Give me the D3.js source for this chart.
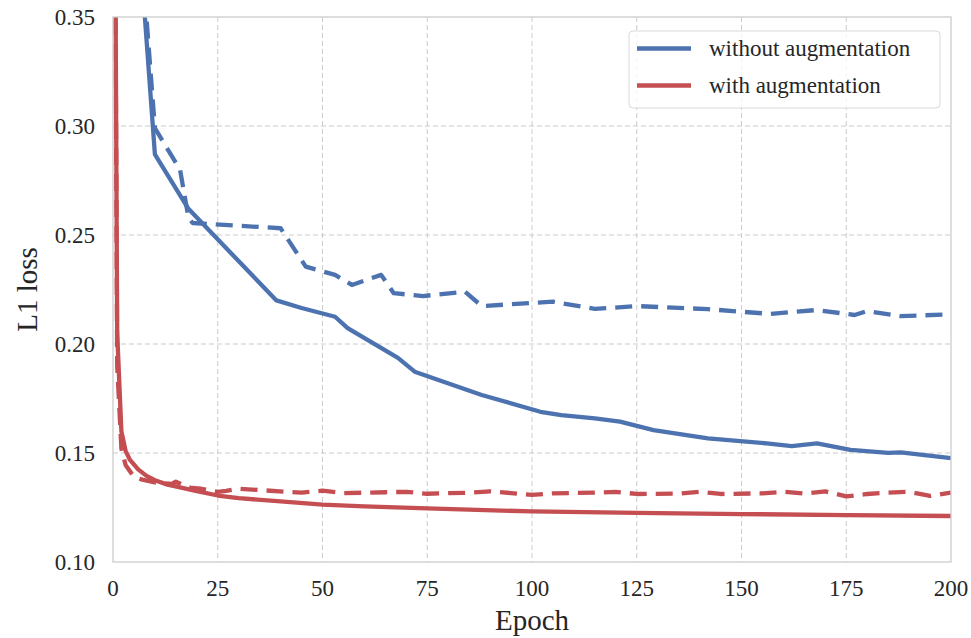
<!DOCTYPE html>
<html lang="en">
<head>
    <meta charset="utf-8">
    <style type="text/css">
        body { margin: 0; background: #fff; }
        svg text { font-family: "Liberation Serif", serif; fill: #262626; }
        .grid line { stroke: #cccccc; stroke-width: 1px; stroke-dasharray: 5,3; }
        .curve { fill: none; stroke-width: 4.3px; stroke-linejoin: round; }
    </style>
</head>
<body>
<svg width="971" height="638"></svg>

<script src="https://cdn.jsdelivr.net/npm/d3@7"></script>

<script type="text/javascript">
    // [epoch, L1 loss]
    var trainNoAug = [
        [0, 0.55], [10, 0.287], [18, 0.262], [39, 0.220], [45, 0.2165], [53, 0.2125],
        [56, 0.2073], [68, 0.1936], [72, 0.1873], [88, 0.1766], [102, 0.1689], [107, 0.1674],
        [115, 0.1659], [121, 0.1644], [129, 0.1605], [142, 0.1567], [156, 0.1544], [162, 0.1532],
        [168, 0.1544], [176, 0.1514], [185, 0.1501], [188, 0.1503], [200, 0.1476]
    ];
    var valNoAug = [
        [0, 0.55], [10, 0.299], [16, 0.280], [18, 0.258], [19, 0.2555], [40, 0.2531],
        [46, 0.2355], [53, 0.2317], [57, 0.2271], [64, 0.2317], [67, 0.2233], [74, 0.2220],
        [84, 0.2240], [88, 0.2174], [105, 0.2194], [115, 0.2161], [125, 0.2174], [142, 0.2160],
        [150, 0.2148], [157, 0.2138], [168, 0.2156], [177, 0.2133], [180, 0.2151], [188, 0.2128],
        [200, 0.2136]
    ];
    var trainAug = [
        [0, 0.60], [1, 0.205], [2, 0.160], [3, 0.151], [4, 0.147], [6, 0.1425], [8, 0.1395],
        [10, 0.1375], [13, 0.1355], [16, 0.1342], [20, 0.1325], [25, 0.1305], [30, 0.1293],
        [40, 0.1278], [50, 0.1263], [60, 0.1255], [75, 0.1246], [100, 0.1232], [125, 0.1225],
        [150, 0.1220], [175, 0.1215], [200, 0.1211]
    ];
    var valAug = [
        [0, 0.60], [1, 0.19], [2, 0.152], [3, 0.1445], [5, 0.1390], [7, 0.1378], [10, 0.1365],
        [14, 0.1358], [15, 0.1368], [18, 0.1342], [21, 0.1336], [25, 0.1322], [27, 0.1326],
        [30, 0.1336], [35, 0.1330], [45, 0.1318], [50, 0.1327], [55, 0.1316], [65, 0.1320],
        [70, 0.1322], [75, 0.1313], [85, 0.1318], [90, 0.1324], [95, 0.1316], [100, 0.1308],
        [105, 0.1315], [115, 0.1318], [120, 0.1322], [125, 0.1312], [135, 0.1314], [140, 0.1322],
        [145, 0.1312], [155, 0.1315], [160, 0.1322], [165, 0.1314], [170, 0.1324], [175, 0.1301],
        [180, 0.1312], [185, 0.1318], [190, 0.1322], [195, 0.1303], [200, 0.1318]
    ];

    var xTicks = [0, 25, 50, 75, 100, 125, 150, 175, 200];
    var yTicks = [0.10, 0.15, 0.20, 0.25, 0.30, 0.35];
    var legendLabels = ["without augmentation", "with augmentation"];

    var blue = "#4c72b0", red = "#c44e52";

    var svg = d3.select("svg"),
        margin = {top: 17, right: 20, bottom: 76, left: 113},
        width = +svg.attr("width") - margin.left - margin.right,
        height = +svg.attr("height") - margin.top - margin.bottom;

    var g = svg.append("g").attr("transform", "translate(" + margin.left + "," + margin.top + ")");

    var x = d3.scaleLinear().domain([0, 200]).range([0, width]);
    var y = d3.scaleLinear().domain([0.10, 0.35]).range([height, 0]);

    // grid
    g.append("g").attr("class", "grid")
        .selectAll("line").data(xTicks.slice(1, -1)).enter().append("line")
        .attr("x1", function (d) {return x(d);}).attr("x2", function (d) {return x(d);})
        .attr("y1", 0).attr("y2", height);
    g.append("g").attr("class", "grid")
        .selectAll("line").data(yTicks.slice(1, -1)).enter().append("line")
        .attr("y1", function (d) {return y(d);}).attr("y2", function (d) {return y(d);})
        .attr("x1", 0).attr("x2", width);

    // tick labels
    var fmtY = d3.format(".2f");
    g.append("g").attr("class", "ticks")
        .selectAll("text").data(xTicks).enter().append("text")
        .attr("x", function (d) {return x(d);})
        .attr("y", height + 34)
        .attr("text-anchor", "middle")
        .attr("font-family", "Liberation Serif")
        .attr("font-size", 23)
        .text(function (d) {return d;});
    g.append("g").attr("class", "ticks")
        .selectAll("text").data(yTicks).enter().append("text")
        .attr("x", -18)
        .attr("y", function (d) {return y(d);})
        .attr("dy", "0.33em")
        .attr("text-anchor", "end")
        .attr("font-family", "Liberation Serif")
        .attr("font-size", 23)
        .text(function (d) {return fmtY(d);});

    // curves, clipped to plot area
    g.append("clipPath").attr("id", "plotclip")
        .append("rect").attr("width", width).attr("height", height);

    var line = d3.line()
        .x(function (d) {return x(d[0]);})
        .y(function (d) {return y(d[1]);});

    var series = [
        {data: valAug, color: red, dashed: true},
        {data: trainAug, color: red, dashed: false},
        {data: valNoAug, color: blue, dashed: true},
        {data: trainNoAug, color: blue, dashed: false}
    ];

    g.append("g").attr("clip-path", "url(#plotclip)")
        .selectAll("path").data(series).enter().append("path")
        .attr("class", "curve")
        .attr("stroke", function (d) {return d.color;})
        .attr("stroke-dasharray", function (d) {return d.dashed ? "17,9" : null;})
        .attr("d", function (d) {return line(d.data);});

    // frame
    g.append("rect").attr("width", width).attr("height", height)
        .attr("fill", "none").attr("stroke", "#cccccc").attr("stroke-width", 1.3);

    // legend
    var legend = svg.append("g").attr("transform", "translate(629,31)");
    legend.append("rect").attr("width", 311).attr("height", 77).attr("rx", 4)
        .attr("fill", "#fff").attr("fill-opacity", 0.8)
        .attr("stroke", "#d9d9d9").attr("stroke-width", 1);
    var item = legend.selectAll(".item").data(legendLabels).enter().append("g")
        .attr("transform", function (d, i) {return "translate(0," + (17.5 + i * 37) + ")";});
    item.append("line").attr("x1", 8).attr("x2", 62)
        .attr("stroke", function (d, i) {return i === 0 ? blue : red;})
        .attr("stroke-width", 4.3);
    item.append("text").attr("x", 80).attr("dy", "0.33em")
        .style("font-size", "23px")
        .text(function (d) {return d;});

    // axis labels
    svg.append("text")
        .attr("x", margin.left + width / 2).attr("y", 630)
        .attr("text-anchor", "middle").style("font-size", "29px")
        .text("Epoch");
    svg.append("text")
        .attr("transform", "translate(37," + (margin.top + height / 2) + ") rotate(-90)")
        .attr("text-anchor", "middle").style("font-size", "29px")
        .text("L1 loss");
</script>

</body>
</html>
